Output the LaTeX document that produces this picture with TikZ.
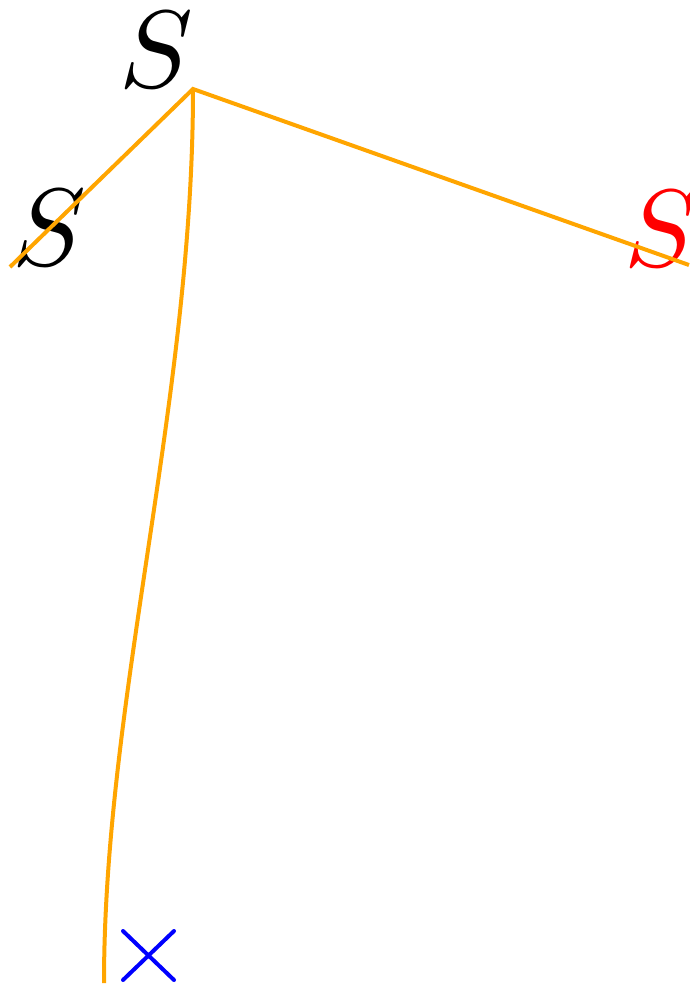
\documentclass[tikz,border=0pt]{standalone}
\usepackage{graphicx}
\usepackage{tikz}
\definecolor{lineorange}{RGB}{255,165,0}
\newcommand{\bigS}{\scalebox{11}{$S$}}
\begin{document}
\begin{tikzpicture}[x=1pt,y=-1pt,
  bond/.style={draw=lineorange,line width=4pt},
  lbl/.style={inner sep=0pt},
  crossmark/.style={draw=blue,line width=4pt,line cap=round}]
\useasboundingbox (0,0) rectangle (689,986);
% labels (drawn below the lines)
\node[lbl] (st) at (156,50) {\bigS};
\node[lbl] (sl) at (49,228) {\bigS};
\node[lbl,text=red] (sr) at (661,229) {\bigS};
% points
\coordinate (top) at (193,89);
\coordinate (left) at (10,267);
\coordinate (right) at (689,265);
\coordinate (bot) at (104,983);
\draw[bond] (left) -- (top) -- (right);
\draw[bond] (top) .. controls (193,400) and (104,700) .. (bot);
% blue cross
\coordinate (x1) at (123,931);
\coordinate (x2) at (174,980);
\coordinate (x3) at (123,980);
\coordinate (x4) at (174,931);
\draw[crossmark] (x1) -- (x2);
\draw[crossmark] (x3) -- (x4);
\end{tikzpicture}
\end{document}
